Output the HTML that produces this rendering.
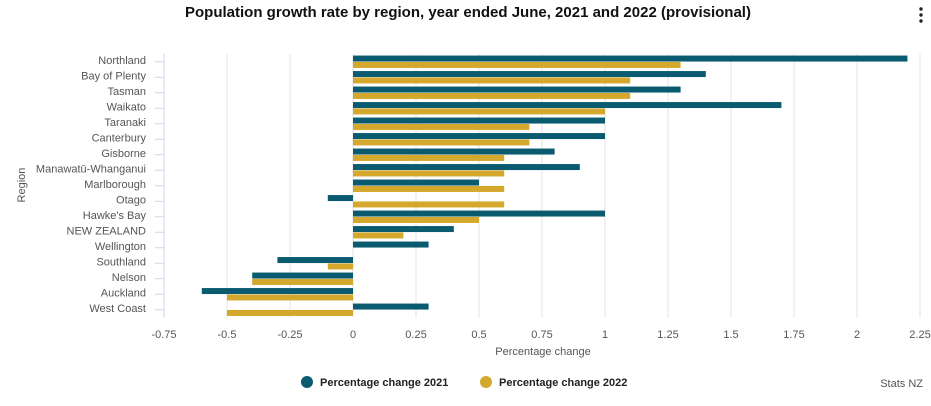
<!DOCTYPE html>
<html><head><meta charset="utf-8"><style>
body{margin:0;background:#fff;font-family:"Liberation Sans",sans-serif;}
svg text{font-family:"Liberation Sans",sans-serif;}
</style></head><body>
<svg width="931" height="401" viewBox="0 0 931 401">
<text x="468" y="17" text-anchor="middle" font-size="15" font-weight="bold" fill="#111">Population growth rate by region, year ended June, 2021 and 2022 (provisional)</text>
<g fill="#222"><circle cx="921" cy="9" r="1.7"/><circle cx="921" cy="15" r="1.7"/><circle cx="921" cy="21" r="1.7"/></g>
<g id="grid"></g><g id="bars"></g><g id="axes"></g>
<text x="25" y="185" transform="rotate(-90 25 185)" text-anchor="middle" font-size="11" fill="#555">Region</text>
<text x="543" y="355" text-anchor="middle" font-size="11" fill="#555">Percentage change</text>
<g><circle cx="307" cy="382" r="6" fill="#0b5b70"/><text x="320" y="386" font-size="11" font-weight="bold" fill="#222">Percentage change 2021</text></g>
<g><circle cx="486" cy="382" r="6" fill="#d4a82c"/><text x="499" y="386" font-size="11" font-weight="bold" fill="#222">Percentage change 2022</text></g>
<text x="923" y="387" text-anchor="end" font-size="11" fill="#555">Stats NZ</text>
</svg>
<script>
const categories=["Northland","Bay of Plenty","Tasman","Waikato","Taranaki","Canterbury","Gisborne","Manawatū-Whanganui","Marlborough","Otago","Hawke's Bay","NEW ZEALAND","Wellington","Southland","Nelson","Auckland","West Coast"];
const values2021=[2.2,1.4,1.3,1.7,1.0,1.0,0.8,0.9,0.5,-0.1,1.0,0.4,0.3,-0.3,-0.4,-0.6,0.3];
const values2022=[1.3,1.1,1.1,1.0,0.7,0.7,0.6,0.6,0.6,0.6,0.5,0.2,0.0,-0.1,-0.4,-0.5,-0.5];
const xTicks=[-0.75,-0.5,-0.25,0,0.25,0.5,0.75,1,1.25,1.5,1.75,2,2.25];
const xTickLabels=["-0.75","-0.5","-0.25","0","0.25","0.5","0.75","1","1.25","1.5","1.75","2","2.25"];
const NS="http://www.w3.org/2000/svg";
const L=164,X0=-0.75,PX=252,T=54,BH=15.5;
const x=v=>L+(v-X0)*PX;
const yc=i=>T+BH*(i+0.5);
function mk(t,a,p){const e=document.createElementNS(NS,t);for(const k in a)e.setAttribute(k,a[k]);p.appendChild(e);return e;}
const g=document.getElementById('grid'),b=document.getElementById('bars'),ax=document.getElementById('axes');
const bottom=T+BH*categories.length;
xTicks.forEach((v,i)=>{
 if(i>0){const l=mk('line',{x1:x(v),x2:x(v),y1:T,y2:bottom,stroke:'#e3e3e3','stroke-width':1},g);
 
 }
 const t=mk('text',{x:x(v),y:338,'text-anchor':'middle','font-size':11,fill:'#555'},ax);t.textContent=xTickLabels[i];
 
 
});
const al=mk('line',{x1:L,x2:L,y1:T,y2:bottom,stroke:'#ccd6eb','stroke-width':1},ax);


categories.forEach((c,i)=>{
 const tk=mk('line',{x1:L-9,x2:L,y1:yc(i),y2:yc(i),stroke:'#ccd6eb'},ax);
 
 
 const t=mk('text',{x:L-18,y:yc(i)+2,'text-anchor':'end','font-size':11,fill:'#555'},ax);t.textContent=c;
 
 
 [[values2021[i],'#0b5b70',-6.2],[values2022[i],'#d4a82c',0.2]].forEach(([v,col,off],k)=>{
  const x1=Math.min(x(0),x(v)),w=Math.abs(x(v)-x(0));
  const r=mk('rect',{x:x1,y:yc(i)+off,width:w,height:6,fill:col},b);
  
  
 });
});
</script>
</body></html>
